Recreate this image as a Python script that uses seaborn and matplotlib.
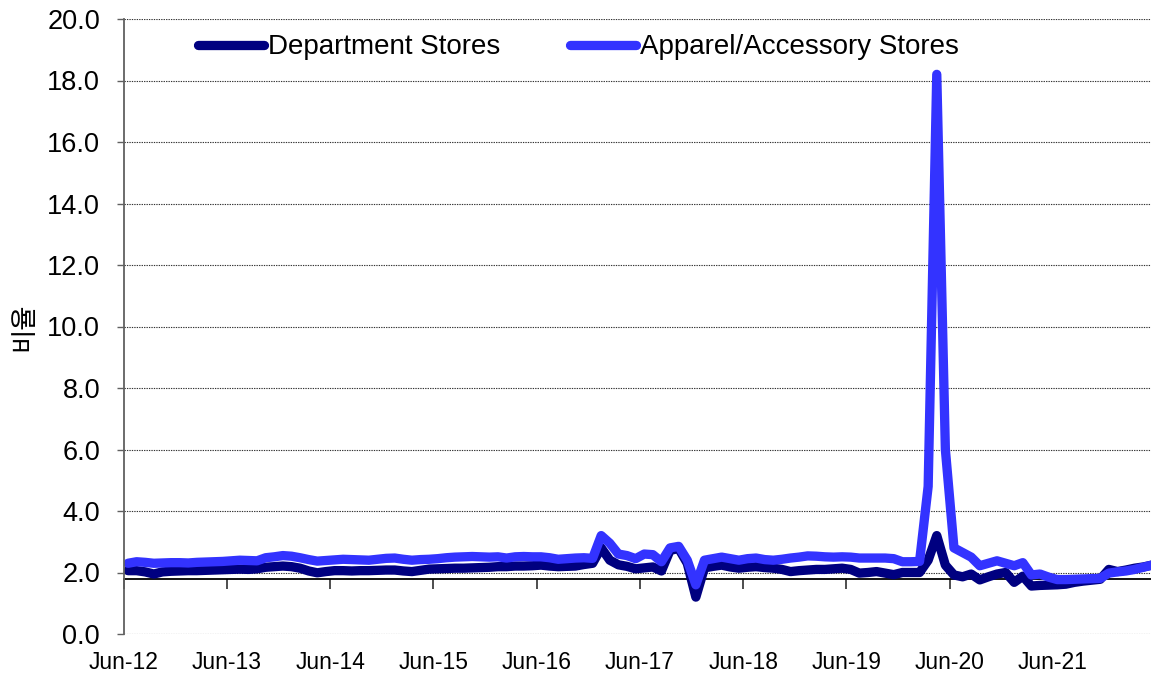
import numpy as np
import pandas as pd
import matplotlib
matplotlib.use("Agg")
import matplotlib.pyplot as plt
import seaborn as sns
from matplotlib.lines import Line2D

# ---- data (monthly, Jun-12 onward) ----
dept = [2.06, 2.06, 2.02, 1.95, 2.02, 2.04, 2.05, 2.06, 2.06, 2.07,
        2.08, 2.09, 2.10, 2.11, 2.10, 2.12, 2.17, 2.19, 2.21, 2.19,
        2.14, 2.05, 1.99, 2.03, 2.06, 2.06, 2.05, 2.06, 2.06, 2.07,
        2.08, 2.08, 2.05, 2.03, 2.07, 2.11, 2.12, 2.13, 2.14, 2.14,
        2.15, 2.16, 2.17, 2.19, 2.19, 2.21, 2.21, 2.22, 2.24, 2.21,
        2.19, 2.20, 2.21, 2.26, 2.30, 2.80, 2.40, 2.25, 2.20, 2.12,
        2.15, 2.18, 2.05, 2.72, 2.78, 2.30, 1.20, 2.15, 2.20, 2.24,
        2.18, 2.14, 2.17, 2.19, 2.16, 2.14, 2.10, 2.03, 2.06, 2.08,
        2.10, 2.10, 2.12, 2.14, 2.10, 1.98, 2.00, 2.03, 1.98, 1.93,
        2.00, 2.00, 2.00, 2.40, 3.20, 2.24, 1.92, 1.86, 1.95, 1.76,
        1.86, 1.95, 2.00, 1.68, 1.88, 1.56, 1.58, 1.59, 1.60, 1.62,
        1.68, 1.72, 1.75, 1.78, 2.10, 2.03, 2.08, 2.14, 2.18, 2.24]

apparel = [2.30, 2.35, 2.33, 2.30, 2.31, 2.32, 2.32, 2.31, 2.33, 2.34,
           2.35, 2.36, 2.38, 2.40, 2.39, 2.38, 2.48, 2.51, 2.55, 2.53,
           2.48, 2.42, 2.37, 2.39, 2.41, 2.43, 2.42, 2.41, 2.40, 2.43,
           2.46, 2.47, 2.43, 2.40, 2.42, 2.43, 2.45, 2.48, 2.50, 2.51,
           2.52, 2.51, 2.50, 2.51, 2.47, 2.51, 2.52, 2.51, 2.51, 2.48,
           2.43, 2.45, 2.47, 2.48, 2.46, 3.20, 2.95, 2.60, 2.55, 2.45,
           2.60, 2.58, 2.35, 2.80, 2.85, 2.40, 1.60, 2.40, 2.45, 2.50,
           2.45, 2.40, 2.45, 2.47, 2.42, 2.40, 2.43, 2.47, 2.50, 2.54,
           2.53, 2.51, 2.50, 2.51, 2.50, 2.47, 2.47, 2.47, 2.47, 2.45,
           2.35, 2.35, 2.36, 4.80, 18.20, 6.00, 2.80, 2.65, 2.50, 2.22,
           2.30, 2.38, 2.30, 2.22, 2.32, 1.92, 1.95, 1.85, 1.77, 1.77,
           1.78, 1.79, 1.80, 1.81, 1.98, 2.02, 2.05, 2.10, 2.17, 2.24]

series_names = ["Department Stores", "Apparel/Accessory Stores"]
series_colors = ["#000080", "#3333FF"]
tick_labels = ["Jun-12", "Jun-13", "Jun-14", "Jun-15", "Jun-16",
               "Jun-17", "Jun-18", "Jun-19", "Jun-20", "Jun-21"]
yticks = [0, 2, 4, 6, 8, 10, 12, 14, 16, 18, 20]
ylabel = "비율"

idx = np.arange(len(dept))
df = pd.DataFrame({"idx": np.concatenate([idx, idx]),
                   "value": dept + apparel,
                   "series": [series_names[0]] * len(dept) + [series_names[1]] * len(apparel)})

sns.set_theme(style="white")
plt.rcParams["font.family"] = ["Liberation Sans", "DejaVu Sans"]
plt.rcParams["text.color"] = "black"
plt.rcParams["axes.labelcolor"] = "black"
plt.rcParams["xtick.color"] = "black"
plt.rcParams["ytick.color"] = "black"

W, H = 1151, 681
fig = plt.figure(figsize=(W / 100, H / 100), dpi=100)
left_px, right_px, top_px, bot_px = 123.7, 1151, 19, 634
ax = fig.add_axes([left_px / W, (H - bot_px) / H, (right_px - left_px) / W, (bot_px - top_px) / H])

lw = 6.7
sns.lineplot(data=df, x="idx", y="value", hue="series", hue_order=series_names,
             palette=series_colors, linewidth=lw, legend=False, sort=False, ax=ax)
for ln in ax.lines:
    ln.set_solid_joinstyle("round")
    ln.set_solid_capstyle("round")

ax.set_xlim(-0.5, 118.9)
ax.set_ylim(0, 20)
ax.set_yticks(yticks)
ax.set_yticklabels([f"{v:.1f}" for v in yticks])
ax.set_xticks(np.arange(len(tick_labels)) * 12 - 0.5)
ax.set_xticklabels(tick_labels)

ax.yaxis.grid(True, linestyle=(0, (1.2, 1.0)), color="#333333", linewidth=0.8)
ax.xaxis.grid(False)
ax.set_axisbelow(True)

for s in ["top", "right"]:
    ax.spines[s].set_visible(False)
ax.spines["bottom"].set_position(("data", 1.8))
ax.spines["bottom"].set_color("black")
ax.spines["bottom"].set_linewidth(1.3)
ax.spines["bottom"].set_zorder(1)
ax.spines["left"].set_color("#606060")
ax.spines["left"].set_linewidth(1.3)

ax.tick_params(axis="x", direction="out", length=7, width=1.2, color="#303030",
               labelcolor="black", pad=45, labelsize=16.5, bottom=True)
ax.tick_params(axis="y", direction="out", length=5, width=1.0, color="#606060",
               labelcolor="black", pad=12, labelsize=19.5, left=True)

ax.set_xlabel("")
ax.set_ylabel(ylabel, fontsize=19, color="black", family=["Noto Sans CJK KR", "DejaVu Sans"])
ax.yaxis.set_label_coords(-0.084, 0.5)

handles = [Line2D([], [], color=c, lw=lw, solid_capstyle="round") for c in series_colors]
fs = 20
fs_px = fs * 100 / 72
leg = ax.legend(handles, series_names, ncol=2, frameon=False, fontsize=fs,
                loc="center left", bbox_to_anchor=(198 / W, 1 - 47.5 / H),
                bbox_transform=fig.transFigure, borderpad=0, borderaxespad=0,
                handlelength=66 / fs_px, handletextpad=4 / fs_px, columnspacing=70 / fs_px)
for t in leg.get_texts():
    t.set_color("black")

fig.savefig("out.png", dpi=100)
